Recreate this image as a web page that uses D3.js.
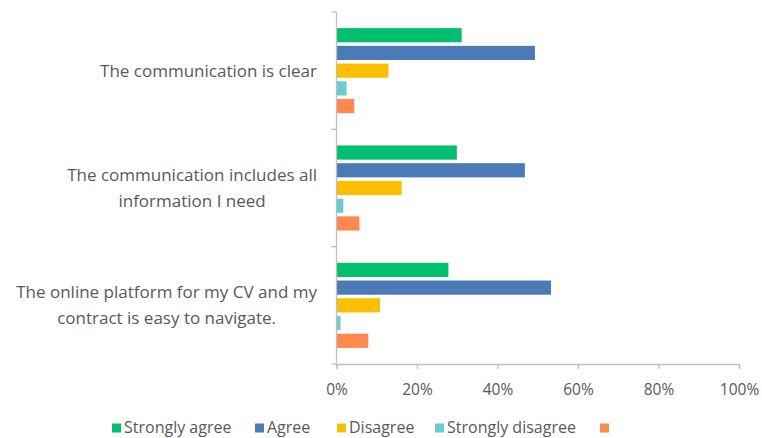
<!DOCTYPE html>
<html>
<head>
<meta charset="utf-8">
<script src="https://cdn.jsdelivr.net/npm/d3@7"></script>
<style>
  html, body { margin: 0; padding: 0; background: #fff; }
  svg { display: block; font-family: "Open Sans", sans-serif; }
</style>
</head>
<body>
<svg id="chart" width="762" height="438"></svg>
<script>
// Survey statements (top to bottom) and response shares in percent
const categories = [
  "The communication is clear",
  "The communication includes all information I need",
  "The online platform for my CV and my contract is easy to navigate."
];
const categoryLines = [
  ["The communication is clear"],
  ["The communication includes all", "information I need"],
  ["The online platform for my CV and my", "contract is easy to navigate."]
];
const seriesNames = ["Strongly agree", "Agree", "Disagree", "Strongly disagree", ""];
const seriesColors = ["#00BF6F", "#4C7AB6", "#FBBF00", "#6DCACD", "#FF884F"];
const stronglyAgree    = [31.1, 29.9, 27.8];
const agree            = [49.3, 46.8, 53.3];
const disagree         = [12.9, 16.2, 10.8];
const stronglyDisagree = [2.5, 1.7, 1.0];
const blank            = [4.4, 5.7, 7.9];
const seriesValues = [stronglyAgree, agree, disagree, stronglyDisagree, blank];
const tickValues = [0, 20, 40, 60, 80, 100];

const svg = d3.select("#chart");
const plotLeft = 336.5, plotRight = 739, plotTop = 12, plotBottom = 364;
const axisColor = "#BFBFBF";
const textColor = "#595959";

const x = d3.scaleLinear().domain([0, 100]).range([plotLeft, plotRight]);
const y = d3.scaleBand().domain(categories).range([plotTop, plotBottom]).padding(0);
const ySub = d3.scaleBand().domain(d3.range(seriesNames.length))
  .range([0, y.bandwidth()]).paddingInner(0.2).paddingOuter(0.91);

// Bars
categories.forEach((cat, ci) => {
  const g = svg.append("g").attr("transform", `translate(0,${y(cat)})`);
  seriesValues.forEach((vals, si) => {
    g.append("rect")
      .attr("x", x(0))
      .attr("y", ySub(si))
      .attr("width", x(vals[ci]) - x(0))
      .attr("height", ySub.bandwidth())
      .attr("fill", seriesColors[si]);
  });
});

// Vertical category axis with boundary ticks
const yAxisG = svg.append("g");
yAxisG.append("line")
  .attr("x1", plotLeft).attr("x2", plotLeft).attr("y1", plotTop).attr("y2", plotBottom)
  .attr("stroke", axisColor).attr("stroke-width", 1.3);
const bounds = [plotTop].concat(categories.map(c => y(c) + y.step()));
bounds.forEach(b => {
  yAxisG.append("line")
    .attr("x1", plotLeft - 5).attr("x2", plotLeft).attr("y1", b).attr("y2", b)
    .attr("stroke", axisColor).attr("stroke-width", 1.3);
});

// Category labels: block right aligned to the axis, lines centred within it
const labelRight = 317;
categories.forEach((cat, ci) => {
  const lines = categoryLines[ci];
  const cy = y(cat) + y.bandwidth() / 2;
  const lh = 26;
  const t = svg.append("text")
    .attr("text-anchor", "middle")
    .attr("fill", textColor)
    .attr("font-size", 17);
  const spans = lines.map((ln, li) => t.append("tspan")
      .attr("y", cy + (li - (lines.length - 1) / 2) * lh)
      .attr("dy", "0.35em")
      .text(ln));
  const maxW = d3.max(spans, s => s.node().getComputedTextLength());
  spans.forEach(s => s.attr("x", labelRight - maxW / 2));
});

// Horizontal value axis
const xAxis = d3.axisBottom(x).tickValues(tickValues)
  .tickFormat(d => d + "%").tickSize(5).tickPadding(15);
const xg = svg.append("g").attr("transform", `translate(0,${plotBottom})`).call(xAxis);
xg.select(".domain").attr("stroke", axisColor).attr("stroke-width", 1.3);
xg.selectAll(".tick line").attr("stroke", axisColor).attr("stroke-width", 1.3);
xg.selectAll(".tick text").attr("fill", textColor).attr("font-size", 15.5)
  .attr("font-family", "Open Sans, sans-serif");

// Legend
const legendX = [112, 255, 337, 435, 600];
const legend = svg.append("g").attr("transform", "translate(0,427)");
seriesNames.forEach((name, i) => {
  const item = legend.append("g").attr("transform", `translate(${legendX[i]},0)`);
  item.append("rect").attr("x", 0).attr("y", -3.5).attr("width", 9).attr("height", 9)
    .attr("fill", seriesColors[i]);
  item.append("text").attr("x", 12).attr("y", 0).attr("dy", "0.35em")
    .attr("fill", textColor).attr("font-size", 16).text(name);
});
</script>
</body>
</html>
